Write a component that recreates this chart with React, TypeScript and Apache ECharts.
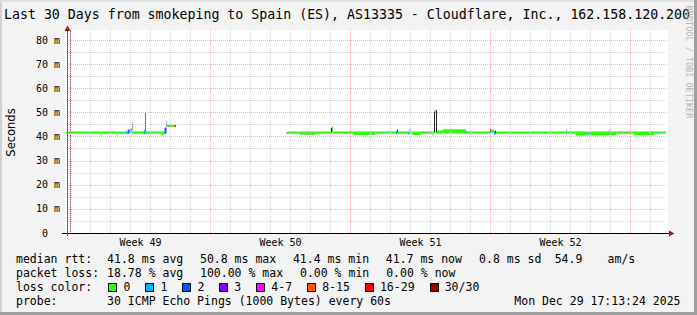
import React, { useEffect, useRef } from 'react';
import * as echarts from 'echarts';

// ---------- texts ----------
const TITLE = 'Last 30 Days from smokeping to Spain (ES), AS13335 - Cloudflare, Inc., 162.158.120.200';
const Y_AXIS_NAME = 'Seconds';
const WATERMARK = 'RRDTOOL / TOBI OETIKER';
const WEEK_LABELS = ['Week 49', 'Week 50', 'Week 51', 'Week 52'];
const WEEK_LABEL_DAYS = [3.5, 10.5, 17.5, 24.5];
const WEEK_START_DAYS = [0, 7, 14, 21, 28];
const X_MIN_DAY = -0.175;
const X_MAX_DAY = 29.825;
const Y_MAX_MS = 84.3;
const Y_MAJOR_MS = [10, 20, 30, 40, 50, 60, 70, 80];
const Y_MINOR_MS = [5, 15, 25, 35, 45, 55, 65, 75];

const LOSS_LABELS = ['0', '1', '2', '3', '4-7', '8-15', '16-29', '30/30'];
const LOSS_COLORS = ['#26ff00', '#00b8ff', '#0059ff', '#7e00ff', '#ff00ff', '#ff5500', '#ff0000', '#a10000'];

const RTT_LABEL = 'median rtt:';
const RTT_STATS = ['41.8 ms avg', '50.8 ms max', '41.4 ms min', '41.7 ms now', '0.8 ms sd', '54.9', 'am/s'];
const LOSS_LABEL = 'packet loss:';
const LOSS_STATS = ['18.78 % avg', '100.00 % max', '0.00 % min', '0.00 % now'];
const LOSS_COLOR_LABEL = 'loss color:';
const PROBE_LABEL = 'probe:';
const PROBE_TEXT = '30 ICMP Echo Pings (1000 Bytes) every 60s';
const TIMESTAMP = 'Mon Dec 29 17:13:24 2025';

// ---------- data ----------
// [startDay, endDay, medianMs, lowestMedianMs, lossClass]
const MEDIAN_SEGMENTS: number[][] = [
  [-0.2, 0.65, 41.8, 41.8, 0],
  [0.65, 0.72, 41.8, 41.8, 1],
  [0.72, 1.5, 41.8, 41.8, 0],
  [1.5, 1.56, 41.8, 41.1, 0],
  [1.56, 2.3, 41.8, 41.8, 0],
  [2.3, 2.36, 41.8, 41.1, 0],
  [2.36, 2.52, 41.8, 41.8, 0],
  [2.52, 2.6, 41.6, 41.6, 1],
  [2.6, 2.78, 41.8, 41.8, 0],
  [2.78, 2.86, 41.8, 41.6, 1],
  [2.86, 2.95, 42.6, 41.8, 2],
  [2.95, 3.08, 43.0, 42.4, 0],
  [3.08, 3.66, 41.8, 41.8, 0],
  [3.66, 3.76, 42.4, 41.6, 1],
  [3.76, 4.15, 41.8, 41.8, 0],
  [4.15, 4.2, 41.8, 41.8, 1],
  [4.2, 4.55, 41.8, 41.8, 0],
  [4.55, 4.7, 41.8, 41.2, 0],
  [4.7, 4.8, 43.4, 41.8, 2],
  [4.8, 5.17, 44.6, 44.6, 0],
  [5.17, 5.22, 44.6, 44.6, 5],
  [5.22, 5.26, 44.6, 44.6, 6],
  [10.8, 10.86, 41.6, 41.6, 1],
  [10.86, 11.45, 41.8, 41.8, 0],
  [11.45, 11.55, 41.8, 41.3, 0],
  [11.55, 11.6, 41.8, 41.6, 4],
  [11.6, 11.65, 41.8, 41.3, 0],
  [11.65, 11.7, 41.8, 41.6, 4],
  [11.7, 12.25, 41.8, 41.3, 0],
  [12.25, 13.06, 41.8, 41.8, 0],
  [13.06, 13.12, 44.0, 42.6, 0],
  [13.12, 14.15, 41.8, 41.8, 0],
  [14.15, 15.25, 41.8, 41.3, 0],
  [15.25, 15.7, 41.8, 41.8, 0],
  [15.7, 15.75, 41.8, 41.8, 1],
  [15.75, 15.95, 41.8, 41.8, 0],
  [15.95, 16.0, 41.8, 41.8, 1],
  [16.0, 16.28, 41.8, 41.8, 0],
  [16.28, 16.34, 42.2, 41.6, 1],
  [16.34, 16.85, 41.8, 41.8, 0],
  [16.85, 16.95, 41.8, 41.5, 1],
  [16.95, 17.1, 41.8, 41.8, 0],
  [17.1, 17.5, 41.8, 41.2, 0],
  [17.5, 18.1, 41.8, 41.8, 0],
  [18.1, 18.15, 41.8, 41.0, 0],
  [18.15, 18.2, 41.8, 41.8, 0],
  [18.2, 18.26, 50.8, 50.6, 0],
  [18.26, 18.6, 42.2, 41.8, 0],
  [18.6, 19.78, 42.7, 41.9, 0],
  [19.78, 19.84, 42.0, 41.8, 1],
  [19.84, 20.0, 41.8, 41.8, 0],
  [20.0, 20.06, 41.8, 41.8, 1],
  [20.06, 20.85, 41.8, 41.8, 0],
  [20.85, 20.9, 41.8, 41.8, 1],
  [20.9, 21.0, 41.8, 41.8, 0],
  [21.0, 21.18, 42.6, 42.2, 0],
  [21.18, 21.23, 42.0, 41.2, 1],
  [21.23, 23.6, 41.8, 41.8, 0],
  [23.6, 23.65, 41.8, 41.8, 1],
  [23.65, 23.85, 41.8, 41.8, 0],
  [23.85, 23.9, 41.8, 41.8, 1],
  [23.9, 24.25, 41.8, 41.8, 0],
  [24.25, 24.3, 41.8, 41.2, 0],
  [24.3, 24.78, 41.8, 41.8, 0],
  [24.78, 24.83, 42.0, 41.8, 1],
  [24.83, 25.25, 41.8, 41.8, 0],
  [25.25, 25.8, 41.8, 41.1, 0],
  [25.8, 25.85, 41.6, 41.1, 1],
  [25.85, 25.95, 41.8, 41.1, 0],
  [25.95, 26.0, 41.6, 41.1, 1],
  [26.0, 26.95, 41.8, 41.1, 0],
  [26.95, 27.0, 41.8, 41.3, 1],
  [27.0, 27.3, 41.8, 41.1, 0],
  [27.3, 28.0, 41.8, 41.8, 0],
  [28.0, 28.05, 41.8, 41.8, 1],
  [28.05, 28.15, 41.8, 41.8, 0],
  [28.15, 28.95, 41.8, 41.2, 0],
  [28.95, 29.0, 41.8, 41.2, 1],
  [29.0, 29.2, 41.8, 41.2, 0],
  [29.2, 29.5, 41.8, 41.8, 0],
  [29.5, 29.55, 41.8, 41.8, 1],
  [29.55, 29.75, 41.8, 41.8, 0],
];

// [day, lowMs, highMs, pingsInBand]
const SMOKE_SPIKES: number[][] = [
  [3.05, 42.8, 46.0, 3],
  [3.7, 42.2, 50.2, 8],
  [4.75, 44.0, 46.4, 3],
  [13.02, 41.8, 43.6, 15],
  [16.3, 41.8, 43.0, 12],
  [16.9, 42.2, 43.2, 3],
  [18.17, 41.8, 50.4, 15],
  [18.27, 42.0, 51.0, 15],
  [20.98, 41.8, 43.1, 13],
  [21.2, 41.2, 42.6, 13],
  [24.78, 42.0, 43.0, 3],
  [26.92, 42.0, 42.9, 4],
];

// ---------- layout ----------
const MONO = '"DejaVu Sans Mono", monospace';
const SANS = '"DejaVu Sans", sans-serif';
const RED_GRID = '#e6b4b4';
const GRAY_GRID = '#d2d2d2';
const ARROW = '#a01818';
const LEGEND_FS = 11.5;
const CHAR_W = 6.95;
const STAT_X = [107.1, 200, 292.9, 385.8, 479.1, 554.7, 607.6];
const LOSS_X = [107.1, 200, 300, 386.2];
const ROW_Y = [259.3, 273.3, 287.3, 301.3];

function txt(x: number, y: number, text: string, extra: any = {}) {
  return {
    type: 'text',
    x,
    y,
    z: 100,
    silent: true,
    style: {
      text,
      fill: '#000',
      fontFamily: MONO,
      fontSize: LEGEND_FS,
      align: 'left',
      verticalAlign: 'middle',
      ...extra,
    },
  };
}

export default function App() {
  const ref = useRef<HTMLDivElement>(null);

  useEffect(() => {
    if (!ref.current) return;
    const chart = echarts.init(ref.current, null, { renderer: 'svg' });

    const dot = (color: string) => ({ color, type: [1, 1], width: 1, opacity: 1 });
    const gridLines: any[] = [];
    Y_MINOR_MS.forEach((v) => gridLines.push({ yAxis: v, lineStyle: dot(GRAY_GRID) }));
    Y_MAJOR_MS.forEach((v) => gridLines.push({ yAxis: v, lineStyle: dot(RED_GRID) }));
    for (let d = 0; d <= Math.floor(X_MAX_DAY); d++) {
      const major = WEEK_START_DAYS.indexOf(d) >= 0;
      gridLines.push({ xAxis: d, lineStyle: dot(major ? RED_GRID : GRAY_GRID) });
    }

    const graphics: any[] = [
      { type: 'rect', z: -1, silent: true, shape: { x: 65, y: 30, width: 603, height: 203 }, style: { fill: '#ffffff' } },
      { type: 'rect', z: 100, silent: true, shape: { x: 0, y: 0, width: 2, height: 315 }, style: { fill: '#d0d0d0' } },
      { type: 'rect', z: 100, silent: true, shape: { x: 0, y: 0, width: 697, height: 2 }, style: { fill: '#e0e0e0' } },
      { type: 'rect', z: 100, silent: true, shape: { x: 694, y: 0, width: 3, height: 315 }, style: { fill: '#9e9e9e' } },
      { type: 'rect', z: 100, silent: true, shape: { x: 0, y: 312, width: 697, height: 3 }, style: { fill: '#9e9e9e' } },
      // axis extensions and arrows
      { type: 'line', z: 50, silent: true, shape: { x1: 62, y1: 233.5, x2: 670, y2: 233.5 }, style: { stroke: '#000', lineWidth: 1 } },
      { type: 'line', z: 50, silent: true, shape: { x1: 67.5, y1: 236, x2: 67.5, y2: 28 }, style: { stroke: '#666', lineWidth: 1 } },
      { type: 'polygon', z: 60, silent: true, shape: { points: [[669, 230.5], [669, 236.5], [674.5, 233.5]] }, style: { fill: ARROW } },
      { type: 'polygon', z: 60, silent: true, shape: { points: [[64.5, 31], [70.5, 31], [67.5, 25.5]] }, style: { fill: ARROW } },
      // title and side texts
      txt(4, 14, TITLE, { fontSize: 13.25 }),
      {
        type: 'text', x: 10.5, y: 132.5, rotation: Math.PI / 2, z: 100, silent: true,
        style: { text: Y_AXIS_NAME, fill: '#000', fontFamily: SANS, fontSize: 11.5, align: 'center', verticalAlign: 'middle' },
      },
      {
        type: 'text', x: 688.5, y: 62, rotation: -Math.PI / 2, z: 100, silent: true,
        style: { text: WATERMARK, fill: '#b4b4b4', fontFamily: MONO, fontSize: 8.5, align: 'center', verticalAlign: 'middle' },
      },
      // legend rows
      txt(16, ROW_Y[0], RTT_LABEL),
      ...RTT_STATS.map((s, i) => txt(STAT_X[i], ROW_Y[0], s)),
      txt(16, ROW_Y[1], LOSS_LABEL),
      ...LOSS_STATS.map((s, i) => txt(LOSS_X[i], ROW_Y[1], s)),
      txt(16, ROW_Y[2], LOSS_COLOR_LABEL),
      txt(16, ROW_Y[3], PROBE_LABEL),
      txt(107.1, ROW_Y[3], PROBE_TEXT),
      txt(680.5, ROW_Y[3], TIMESTAMP, { align: 'right' }),
    ];
    let lx = 108.4;
    LOSS_LABELS.forEach((lab, i) => {
      graphics.push({
        type: 'rect', z: 100, silent: true,
        shape: { x: Math.round(lx) + 0.5, y: 283.5, width: 8, height: 8 },
        style: { fill: LOSS_COLORS[i], stroke: '#000', lineWidth: 1 },
      });
      graphics.push(txt(lx + 15.1, ROW_Y[2], lab));
      lx += 30 + CHAR_W * lab.length;
    });

    chart.setOption({
      animation: false,
      backgroundColor: '#f3f3f3',
      grid: { left: 67, top: 30, width: 600, height: 203, show: false },
      xAxis: {
        type: 'value',
        min: X_MIN_DAY,
        max: X_MAX_DAY,
        axisLine: { show: true, lineStyle: { color: '#000', width: 1 } },
        axisTick: { show: false },
        splitLine: { show: false },
        axisLabel: {
          customValues: WEEK_LABEL_DAYS,
          formatter: (v: number) => {
            const i = WEEK_LABEL_DAYS.indexOf(v);
            return i >= 0 ? WEEK_LABELS[i] : '';
          },
          fontFamily: MONO,
          fontSize: 10,
          color: '#000',
          margin: 4,
        },
      },
      yAxis: {
        type: 'value',
        min: 0,
        max: Y_MAX_MS,
        interval: 10,
        axisLine: { show: true, lineStyle: { color: '#666', width: 1 } },
        axisTick: { show: false },
        splitLine: { show: false },
        axisLabel: {
          formatter: (v: number) => (Math.abs(v % 10) > 1e-6 ? '' : v === 0 ? '0\u00a0\u00a0' : `${v} m`),
          fontFamily: MONO,
          fontSize: 10,
          color: '#000',
          margin: 7,
        },
      },
      graphic: { elements: graphics },
      series: [
        {
          type: 'line',
          data: [],
          z: 1,
          silent: true,
          markLine: {
            silent: true,
            symbol: ['none', 'none'],
            label: { show: false },
            animation: false,
            lineStyle: { color: GRAY_GRID, type: [1, 1], width: 1 },
            data: gridLines,
          },
        },
        {
          type: 'custom',
          z: 3,
          silent: true,
          data: MEDIAN_SEGMENTS,
          encode: { x: [0, 1], y: [2, 3] },
          renderItem: (_p: any, api: any) => {
            const a = api.coord([api.value(0), api.value(2)]);
            const b = api.coord([api.value(1), api.value(3)]);
            return {
              type: 'rect',
              shape: { x: a[0], y: a[1] - 0.9, width: Math.max(b[0] - a[0], 1), height: b[1] - a[1] + 2.3 },
              style: { fill: LOSS_COLORS[api.value(4)] },
            };
          },
        },
        {
          type: 'custom',
          z: 4,
          silent: true,
          data: SMOKE_SPIKES,
          encode: { x: 0, y: [1, 2] },
          renderItem: (_p: any, api: any) => {
            const top = api.coord([api.value(0), api.value(2)]);
            const bot = api.coord([api.value(0), api.value(1)]);
            const g = Math.max(30, Math.round(200 - api.value(3) * 11));
            return {
              type: 'rect',
              shape: { x: Math.round(top[0]), y: top[1], width: 1, height: bot[1] - top[1] },
              style: { fill: `rgb(${g},${g},${g})` },
            };
          },
        },
      ],
    });

    return () => chart.dispose();
  }, []);

  return <div ref={ref} style={{ position: 'absolute', left: 0, top: 0, width: 697, height: 315 }} />;
}
